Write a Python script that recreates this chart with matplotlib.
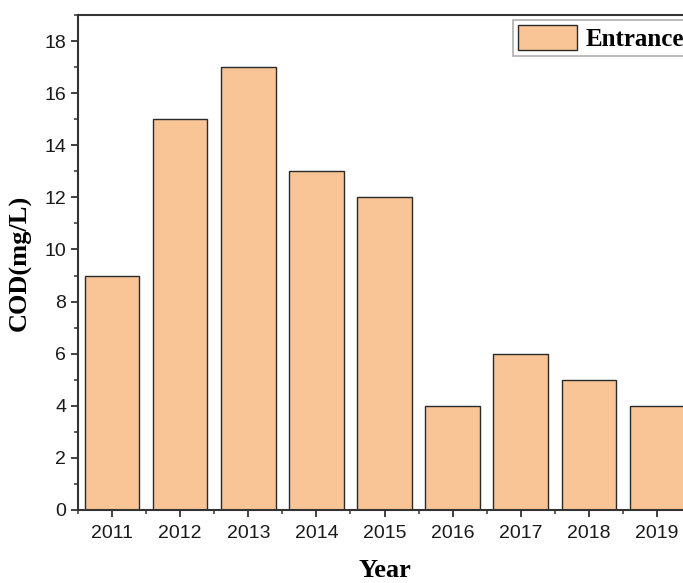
import matplotlib
matplotlib.use("Agg")
import matplotlib.pyplot as plt
from matplotlib.ticker import MultipleLocator

years = [2011, 2012, 2013, 2014, 2015, 2016, 2017, 2018, 2019]
cod = [9, 15, 17, 13, 12, 4, 6, 5, 4]
series_name = "Entrance"

fig = plt.figure(figsize=(6.83, 5.83), dpi=100)
ax = fig.add_axes([78/683, 1-510/583, (691-78)/683, (510-15)/583])

ax.bar(years, cod, width=0.8, color="#F9C596", edgecolor="#2a2a2a", linewidth=1.0, label=series_name)

ax.set_xlim(2010.5, 2019.5)
ax.set_ylim(0, 19)
ax.set_xticks(years)
ax.set_xticklabels([str(y) for y in years])
ax.set_xticks([y + 0.5 for y in years[:-1]] + [2010.5], minor=True)
ax.yaxis.set_major_locator(MultipleLocator(2))
ax.yaxis.set_minor_locator(MultipleLocator(1))

for s in ax.spines.values():
    s.set_linewidth(1.5)
    s.set_color("#333333")

ax.tick_params(axis="both", which="major", direction="out", length=5, width=1.3,
               labelsize=14, colors="#333333", labelcolor="#1a1a1a")
ax.tick_params(axis="x", which="major", pad=6)
ax.tick_params(axis="both", which="minor", direction="out", length=3, width=1.1, colors="#333333")
for lbl in ax.get_xticklabels() + ax.get_yticklabels():
    lbl.set_family("Liberation Sans")

ax.set_ylabel("COD(mg/L)", family="Liberation Serif", fontweight="bold", fontsize=19, labelpad=9)
ax.set_xlabel("Year", family="Liberation Serif", fontweight="bold", fontsize=19, labelpad=12)

leg = fig.legend(loc="upper left", bbox_to_anchor=(513/683, 1-20/583), borderaxespad=0,
                 prop={"family": "Liberation Serif", "weight": "bold", "size": 18},
                 frameon=True, fancybox=False, edgecolor="#999999",
                 handlelength=2.35, handleheight=1.15, borderpad=0.2, handletextpad=0.35)
leg.get_frame().set_linewidth(1.2)

fig.savefig("out.png", dpi=100)
